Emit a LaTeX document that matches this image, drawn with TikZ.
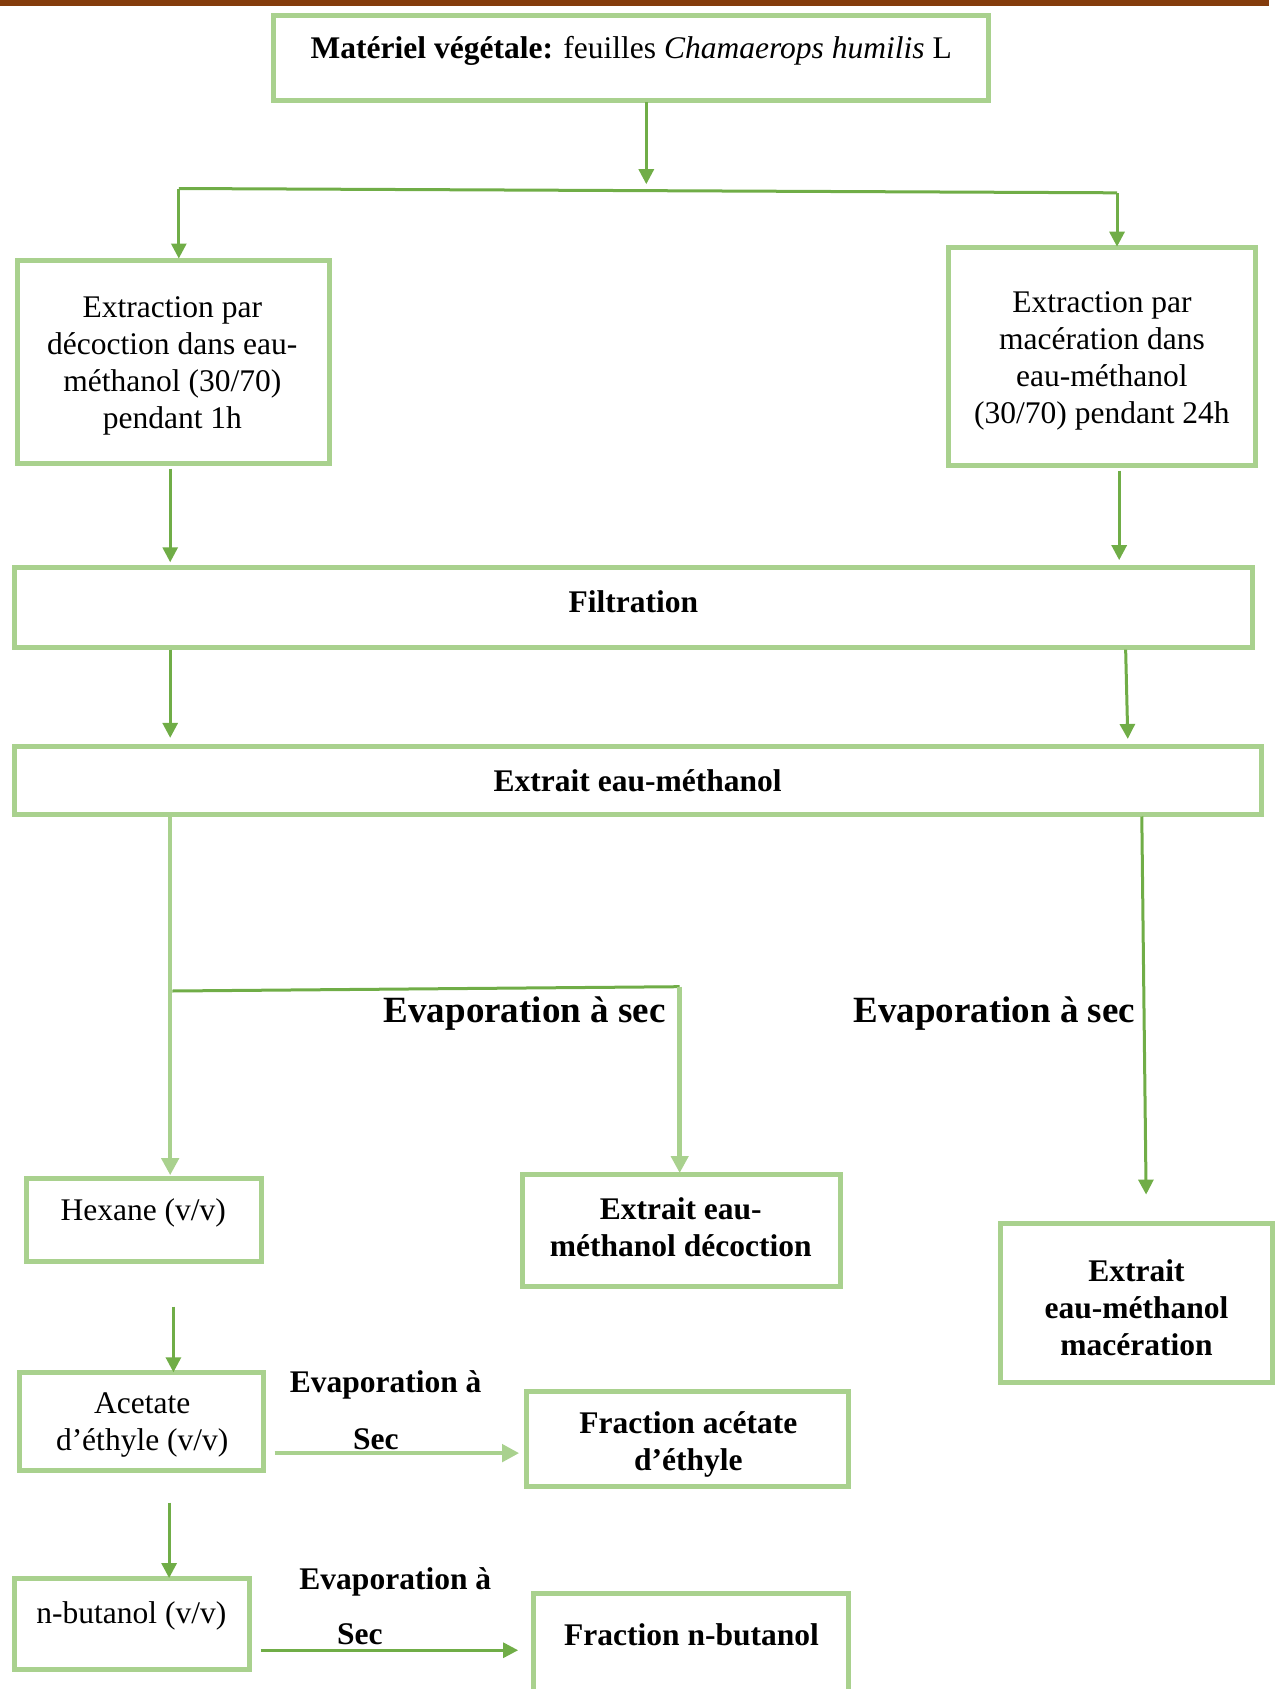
\documentclass[tikz,border=0pt]{standalone}
\usepackage{fontspec}
\setmainfont{Liberation Serif}
\usetikzlibrary{arrows.meta,fit}
\definecolor{boxgreen}{HTML}{A9D18E}
\definecolor{arrgreen}{HTML}{70AD47}
\definecolor{barbrown}{HTML}{843C0C}
\tikzset{
  box/.style={draw=boxgreen, line width=5pt, inner sep=0pt, fill=white},
  txt/.style={inner sep=0pt, align=center, yshift=-3.2pt, font=\fontsize{31.5}{37}\selectfont},
  btxt/.style={txt, font=\fontsize{31.5}{37}\selectfont\bfseries},
  bigtxt/.style={inner sep=0pt, yshift=-3.2pt, font=\fontsize{37}{44}\selectfont\bfseries},
  darr/.style={draw=arrgreen, line width=3pt, -{Triangle[length=15pt,width=15pt]}},
  larr/.style={draw=boxgreen, line width=4.5pt, -{Triangle[length=17pt,width=17pt]}},
  dline/.style={draw=arrgreen, line width=3pt},
}
\begin{document}
\begin{tikzpicture}[x=1.0768pt,y=-1.0768pt]
\useasboundingbox (0,0) rectangle (1185,1568);
% top brown bar
\fill[barbrown] (0,0) rectangle (1178,5.5);

% boxes
\node[box, fit={(254,14) (918,93)}] (top) {};
\node[txt] (toptxt) at (586,44) {\textbf{Matériel végétale:} feuilles \textit{Chamaerops humilis} L};

\node[box, fit={(16,242) (306,430)}] (dec) {};
\node[txt] (dectxt) at (160,337) {Extraction par\\décoction dans eau-\\méthanol (30/70)\\pendant 1h};

\node[box, fit={(881,230) (1166,432)}] (mac) {};
\node[txt] (mactxt) at (1023,332.5) {Extraction par\\macération dans\\eau-méthanol\\(30/70) pendant 24h};

\node[box, fit={(13,527) (1163,601)}] (filt) {};
\node[btxt] (filttxt) at (588,556) {Filtration};

\node[box, fit={(13,693) (1171,756)}] (ext) {};
\node[btxt] (exttxt) at (592,722) {Extrait eau-méthanol};

\node[box, fit={(25,1094) (243,1171)}] (hex) {};
\node[txt] (hextxt) at (133,1123) {Hexane (v/v)};

\node[box, fit={(485,1090) (780,1194)}] (decx) {};
\node[btxt] (decxtxt) at (632,1136.5) {Extrait eau-\\méthanol décoction};

\node[box, fit={(929,1136) (1181,1283)}] (macx) {};
\node[btxt] (macxtxt) at (1055,1211) {Extrait\\eau-méthanol\\macération};

\node[box, fit={(18,1274) (245,1365)}] (acet) {};
\node[txt] (acettxt) at (132,1319.5) {Acetate\\d’éthyle (v/v)};

\node[box, fit={(489,1292) (788,1380)}] (frac) {};
\node[btxt] (fractxt) at (639,1338) {Fraction acétate\\d’éthyle};

\node[box, fit={(13,1465) (232,1550)}] (nbut) {};
\node[txt] (nbuttxt) at (122,1497) {n-butanol (v/v)};

% open box at bottom (cut by page edge)
\coordinate (nf1) at (495,1585);
\coordinate (nf2) at (495,1479);
\coordinate (nf3) at (788,1479);
\coordinate (nf4) at (788,1585);
\draw[draw=boxgreen, line width=5pt] (nf1) -- (nf2) -- (nf3) -- (nf4);
\node[btxt] (nfractxt) at (642,1515) {Fraction n-butanol};

% labels
\node[bigtxt] (ev1) at (487,938) {Evaporation à sec};
\node[bigtxt] (ev2) at (923,938) {Evaporation à sec};
\node[btxt] (ev3) at (358,1283) {Evaporation à};
\node[btxt] (sec3) at (349,1333) {Sec};
\node[btxt] (ev4) at (367,1466) {Evaporation à};
\node[btxt] (sec4) at (334,1514) {Sec};

% connectors
\coordinate (a0) at (600,95);
\coordinate (a1) at (600,171);
\draw[darr] (a0) -- (a1);
\coordinate (sL) at (166,175);
\coordinate (sR) at (1037,179);
\draw[dline] (sL) -- (sR);
\draw[darr] (sL) -- (sL |- 0,240);
\draw[darr] (sR) -- (sR |- 0,229);

\coordinate (b0) at (158,435);
\coordinate (c0) at (1039,437);
\draw[darr] (b0) -- (b0 |- 0,522);
\draw[darr] (c0) -- (c0 |- 0,520);

\coordinate (d0) at (158,603);
\coordinate (e0) at (1045,603);
\coordinate (e1) at (1047,686);
\draw[darr] (d0) -- (d0 |- 0,685);
\draw[darr] (e0) -- (e1);

\coordinate (f0) at (158,758);
\draw[larr] (f0) -- (f0 |- 0,1091);
\coordinate (g0) at (160,920);
\coordinate (g1) at (631,916);
\draw[dline] (g0) -- (g1);
\draw[larr] (g1) -- (g1 |- 0,1089);
\coordinate (h0) at (1060,758);
\coordinate (h1) at (1064,1109);
\draw[darr] (h0) -- (h1);

\coordinate (i0) at (161,1213);
\draw[darr] (i0) -- (i0 |- 0,1274);
\coordinate (j0) at (255,1349);
\coordinate (j1) at (482,1349);
\draw[larr] (j0) -- (j1);
\coordinate (k0) at (157,1395);
\draw[darr] (k0) -- (k0 |- 0,1465);
\coordinate (l0) at (242,1532);
\coordinate (l1) at (481,1532);
\draw[darr] (l0) -- (l1);
\end{tikzpicture}
\end{document}
